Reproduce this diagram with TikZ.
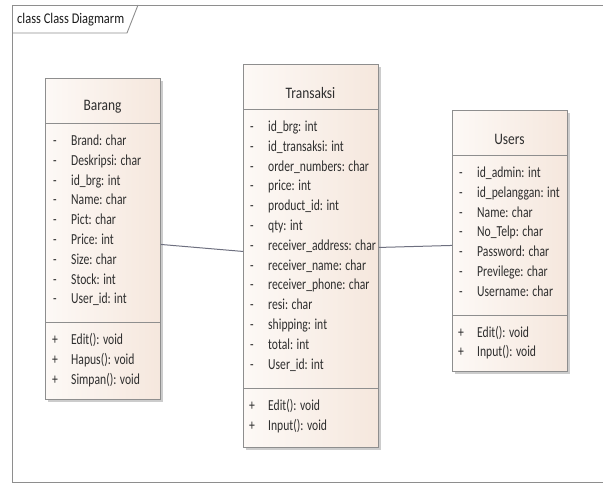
\documentclass[tikz,border=0pt]{standalone}
\usepackage{fontspec}
\setmainfont{Carlito}[FakeStretch=0.76]
\newfontfamily\titlefont{Carlito}[FakeStretch=0.84]
\usetikzlibrary{positioning,shadows}

\definecolor{umlline}{HTML}{8E8E8E}
\definecolor{umltext}{HTML}{2E2E2E}
\definecolor{umlfillA}{HTML}{FDF9F6}
\definecolor{umlfillB}{HTML}{F5E7DD}
\definecolor{assoc}{HTML}{6E7080}

\begin{document}
\begin{tikzpicture}[x=1pt,y=-1pt,
  classbox/.style={draw=umlline, line width=0.9pt, left color=umlfillA, right color=umlfillB,
    drop shadow={shadow xshift=2.5pt, shadow yshift=-2.5pt, fill=black!50, opacity=0.4},
    inner sep=0pt, anchor=north west},
  divider/.style={draw=umlline, line width=0.9pt},
  member/.style={font=\fontsize{15.3}{18}\selectfont, text=umltext, inner sep=0pt, anchor=base west},
  classtitle/.style={font=\titlefont\fontsize{16}{19}\selectfont, text=umltext, inner sep=0pt},
  association/.style={draw=assoc, line width=1pt}]
\useasboundingbox (0,0) rectangle (603,492);

% diagram frame
\draw[umlline, line width=0.9pt] (603,5) -- (12,5) -- (12,482) -- (603,482);
\draw[umlline, line width=0.9pt] (12,33) -- (127,33) -- (138,5);
\node[font=\titlefont\fontsize{14.8}{17}\selectfont, text=black!90, inner sep=0pt, anchor=west] (frame-title) at (17,20) {class Class Diagmarm};

% Barang
\node[classbox, minimum width=115pt, minimum height=321pt] (barang) at (45,78) {};
\node[classtitle] (brg-title) at (102.5,107) {Barang};
\draw[divider] (45,123) -- (160,123);
\draw[divider] (45,322) -- (160,322);
\foreach \t [count=\i from 0] in {Brand: char, Deskripsi: char, id\_brg: int, Name: char,
    Pict: char, Price: int, Size: char, Stock: int, User\_id: int}
{
  \node[member] (brg-m\i) at (53,{145.5+19.8*\i}) {-};
  \node[member] (brg-a\i) at (71,{145.5+19.8*\i}) {\t};
}
\foreach \t [count=\i from 0] in {Edit(): void, Hapus(): void, Simpan(): void}
{
  \node[member] (brg-p\i) at (52,{344.5+19.8*\i}) {+};
  \node[member] (brg-o\i) at (71,{344.5+19.8*\i}) {\t};
}

% Transaksi
\node[classbox, minimum width=135pt, minimum height=383pt] (trans) at (243,64) {};
\node[classtitle] (trs-title) at (310.5,93) {Transaksi};
\draw[divider] (243,109) -- (378,109);
\draw[divider] (243,388) -- (378,388);
\foreach \t [count=\i from 0] in {id\_brg: int, id\_transaksi: int, order\_numbers: char,
    price: int, product\_id: int, qty: int, receiver\_address: char, receiver\_name: char,
    receiver\_phone: char, resi: char, shipping: int, total: int, User\_id: int}
{
  \node[member] (trs-m\i) at (250,{131.5+19.8*\i}) {-};
  \node[member] (trs-a\i) at (268,{131.5+19.8*\i}) {\t};
}
\foreach \t [count=\i from 0] in {Edit(): void, Input(): void}
{
  \node[member] (trs-p\i) at (249,{410.5+19.8*\i}) {+};
  \node[member] (trs-o\i) at (268,{410.5+19.8*\i}) {\t};
}

% Users
\node[classbox, minimum width=115pt, minimum height=261pt] (users) at (452,110) {};
\node[classtitle] (usr-title) at (509.5,139) {Users};
\draw[divider] (452,155) -- (567,155);
\draw[divider] (452,315) -- (567,315);
\foreach \t [count=\i from 0] in {id\_admin: int, id\_pelanggan: int, Name: char,
    No\_Telp: char, Password: char, Previlege: char, Username: char}
{
  \node[member] (usr-m\i) at (459,{177.5+19.8*\i}) {-};
  \node[member] (usr-a\i) at (477,{177.5+19.8*\i}) {\t};
}
\foreach \t [count=\i from 0] in {Edit(): void, Input(): void}
{
  \node[member] (usr-p\i) at (458,{337+19.8*\i}) {+};
  \node[member] (usr-o\i) at (477,{337+19.8*\i}) {\t};
}

% associations
\draw[association] ([yshift=-5.5pt]barang.east) -- ([yshift=4.5pt]trans.west);
\draw[association] ([yshift=8.5pt]trans.east) -- ([yshift=-4.5pt]users.west);
\end{tikzpicture}
\end{document}
